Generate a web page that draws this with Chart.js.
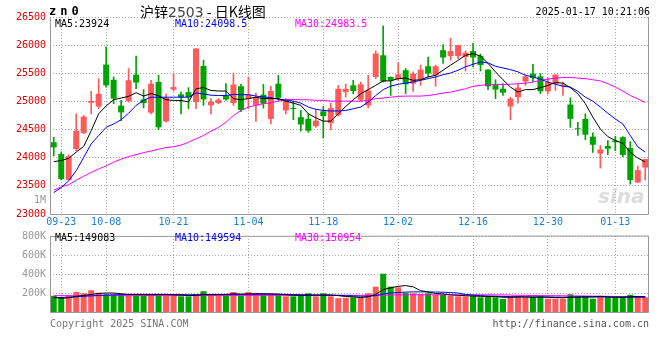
<!DOCTYPE html>
<html>
<head>
<meta charset="utf-8">
<script src="https://cdn.jsdelivr.net/npm/chart.js@4.4.1/dist/chart.umd.min.js"></script>
<style>
  body { margin: 0; background: #fff; }
  #wrap { position: relative; width: 660px; height: 360px; overflow: hidden; background: #fff; }
  canvas { position: absolute; left: 0; }
  .t { position: absolute; font: 10px "DejaVu Sans Mono", monospace; line-height: 12px; white-space: pre; }
</style>
</head>
<body>
<div id="wrap">
  <canvas id="kline" width="660" height="232" style="top:0"></canvas>
  <canvas id="vol" width="660" height="96" style="top:226px"></canvas>

  <div class="t" style="left:49px;top:4px;font-weight:bold;font-size:12px;line-height:14px;letter-spacing:4px">zn0</div>
  <div class="t" style="left:140px;top:2px;font:14px 'Noto Sans CJK SC';line-height:18px">沪锌<span style="color:#444;font-family:'DejaVu Sans'">2503</span> - 日K线图</div>
  <div class="t" style="right:10px;top:6px">2025-01-17 10:21:06</div>

  <div class="t" style="left:55px;top:18px;color:#000">MA5:23924</div>
  <div class="t" style="left:175px;top:18px;color:#0000ff">MA10:24098.5</div>
  <div class="t" style="left:295px;top:18px;color:#ff00ff">MA30:24983.5</div>
  <div class="t" style="left:0;width:46px;text-align:right;top:194px;color:#999">1M</div>
  <div class="t" style="left:598px;top:184px;font:italic bold 20px 'DejaVu Sans';line-height:24px;color:#dcdcdc">sina</div>

  <div class="t" style="left:55px;top:232px;color:#000">MA5:149083</div>
  <div class="t" style="left:175px;top:232px;color:#0000ff">MA10:149594</div>
  <div class="t" style="left:295px;top:232px;color:#ff00ff">MA30:150954</div>

  <div class="t" style="left:50px;top:318px;color:#777">Copyright 2025 SINA.COM</div>
  <div class="t" style="right:11px;top:318px;color:#555">http://finance.sina.com.cn</div>
</div>

<script>
// 日期（交易日）
const dates = ['09-20','09-23','09-24','09-25','09-26','09-27','09-30','10-08','10-09','10-10',
  '10-11','10-14','10-15','10-16','10-17','10-18','10-21','10-22','10-23','10-24',
  '10-25','10-28','10-29','10-30','10-31','11-01','11-04','11-05','11-06','11-07',
  '11-08','11-11','11-12','11-13','11-14','11-15','11-18','11-19','11-20','11-21',
  '11-22','11-25','11-26','11-27','11-28','11-29','12-02','12-03','12-04','12-05',
  '12-06','12-09','12-10','12-11','12-12','12-13','12-16','12-17','12-18','12-19',
  '12-20','12-23','12-24','12-25','12-26','12-27','12-30','12-31','01-02','01-03',
  '01-06','01-07','01-08','01-09','01-10','01-13','01-14','01-15','01-16','01-17'];
const tickDates = ['09-23','10-08','10-21','11-04','11-18','12-02','12-16','12-30','01-13'];
const priceTicks = [23000, 23500, 24000, 24500, 25000, 25500, 26000, 26500];
const volTicks = [200000, 400000, 600000, 800000];

const open = [24275,24065,23605,24155,24440,24975,24910,25655,25385,24925,
  25005,25475,25035,24800,25345,24645,25210,25125,25165,24990,
  25630,24930,24970,25105,24970,25270,25050,24930,25120,24690,
  25315,24840,24885,24720,24690,24560,24825,24615,24760,25165,
  25285,25030,24930,25435,25820,25435,25395,25555,25315,25385,
  25625,25465,25910,25805,25805,25790,25895,25805,25565,25290,
  25225,24910,25075,25355,25495,25445,25180,25315,25270,24945,
  24520,24690,24375,24075,24210,24305,24365,24175,23560,23825];
const high = [24365,24105,24050,24780,24750,25180,25405,25970,25435,25020,
  25585,25805,25210,25375,25465,25135,25505,25165,25245,25940,
  25730,25050,25050,25315,25505,25305,25435,25150,25305,25270,
  25465,25050,25005,24840,24780,24855,24910,24970,25285,25305,
  25375,25345,25465,25900,26340,25435,25690,25585,25525,25645,
  25790,25645,26010,26120,26000,25900,26030,25840,25565,25385,
  25315,25075,25305,25475,25660,25495,25425,25475,25345,25065,
  24630,24780,24440,24215,24305,24380,24375,24285,23855,23975];
const low = [24035,23605,23605,24125,24425,24780,24870,25255,24960,24660,
  24990,25225,24885,24780,24500,24630,25185,24780,24870,24870,
  24930,24780,24960,25020,24930,24820,24870,24645,24880,24600,
  25020,24780,24675,24470,24450,24540,24350,24495,24740,25075,
  25135,25005,24885,25405,25345,25105,25375,25135,25180,25285,
  25435,25270,25675,25730,25760,25540,25615,25540,25210,25050,
  25105,24675,24970,25285,25345,25135,25135,25195,25105,24540,
  24395,24320,24095,23815,24055,24125,24020,23530,23560,23605];
const close = [24185,23620,24025,24480,24730,25010,25135,25285,25050,24805,
  25375,25335,24970,25315,24540,25065,25255,25075,25075,25940,
  25035,24995,25030,25035,25300,24850,25125,25075,24960,25185,
  25065,25030,24865,24590,24480,24660,24740,24885,25225,25225,
  25185,25305,25195,25850,25355,25375,25480,25305,25495,25565,
  25495,25625,25780,25895,26000,25865,25780,25645,25270,25210,
  25155,25050,25245,25445,25415,25180,25345,25475,25300,24690,
  24505,24410,24230,24145,24160,24275,24050,23605,23780,23975];

const ma5 = [23930,23950,23990,24100,24200,24480,24780,24920,25030,25060,
  25090,25155,25095,25140,25100,25030,25018,25018,24990,25225,
  25245,25195,25185,25185,25050,25030,25050,25075,25050,25050,
  25050,25005,24970,24930,24780,24710,24650,24650,24780,24910,
  25030,25135,25210,25285,25365,25365,25405,25415,25375,25385,
  25435,25465,25555,25645,25730,25820,25850,25805,25675,25525,
  25385,25255,25165,25210,25210,25245,25285,25335,25325,25245,
  25135,24960,24720,24510,24375,24305,24255,24095,23995,23924];
const ma10 = [23380,23470,23590,23770,24005,24245,24395,24540,24600,24675,
  24790,24930,25020,25075,25075,25075,25075,25075,25075,25150,
  25135,25110,25105,25105,25125,25120,25120,25095,25080,25066,
  25040,25025,25005,24970,24900,24860,24840,24830,24830,24840,
  24870,24900,24990,25105,25210,25270,25305,25325,25345,25375,
  25405,25435,25475,25505,25555,25615,25660,25700,25685,25625,
  25595,25565,25525,25465,25435,25395,25345,25305,25270,25255,
  25180,25075,25005,24900,24790,24690,24600,24395,24195,24098.5];
const ma30 = [23425,23480,23520,23600,23670,23740,23800,23855,23920,23975,
  24020,24055,24090,24120,24150,24180,24195,24225,24275,24335,
  24395,24470,24540,24630,24750,24840,24900,24930,24960,24975,
  25005,25030,25035,25030,25030,25020,25020,25005,25005,25005,
  25005,25005,25020,25050,25060,25075,25090,25095,25095,25095,
  25105,25125,25150,25165,25195,25225,25270,25285,25300,25300,
  25300,25305,25315,25325,25345,25375,25395,25415,25425,25425,
  25415,25405,25385,25365,25315,25255,25185,25105,25045,24983.5];

// 成交量（千手）
const volume = [171,155,178,210,197,229,203,187,187,187,
  187,187,171,187,187,187,178,165,165,187,
  219,181,181,171,210,171,210,193,187,187,
  178,165,165,171,197,165,197,165,146,149,
  155,149,197,267,403,267,260,203,197,187,
  197,181,181,171,165,165,171,155,162,155,
  137,165,165,155,155,165,140,140,140,187,
  165,165,140,165,155,155,155,181,165,155];
const volMa5 = [155,145,150,165,175,185,195,200,200,192,
  185,185,182,182,184,184,180,178,174,175,
  182,183,185,185,192,188,190,192,192,190,
  188,182,176,175,178,178,178,180,172,163,
  160,152,160,185,235,255,270,278,265,225,
  210,195,190,180,176,172,168,165,163,162,
  155,155,158,158,155,158,155,152,150,155,
  158,160,160,165,158,156,155,160,162,162];
const volMa10 = [150,152,155,160,165,170,174,178,180,182,
  184,186,186,186,186,185,184,183,182,182,
  183,183,183,183,184,185,186,187,188,188,
  187,186,184,182,180,178,177,176,175,172,
  169,166,166,172,190,200,205,210,212,212,
  212,210,208,205,200,185,178,172,168,166,
  164,162,160,160,159,158,158,157,156,157,
  157,158,158,159,158,158,157,157,156,156];
const volMa30 = [172,172,171,171,172,172,173,173,173,172,
  172,173,173,173,174,174,174,173,173,173,
  174,174,174,174,175,175,175,175,175,175,
  175,175,175,175,176,176,176,176,176,176,
  176,176,176,177,178,179,180,180,181,181,
  181,181,181,181,181,181,181,181,181,181,
  180,178,176,175,174,173,172,172,171,170,
  169,168,167,166,165,164,162,160,158,156];
const VOL_UNIT = 1000;

const RED = '#ff5a5a';
const GREEN = '#00a400';
const GRID = '#aaaaaa';
const FONT = { family: 'DejaVu Sans Mono', size: 10 };

const upDown = ctx => close[ctx.dataIndex] >= open[ctx.dataIndex] ? RED : GREEN;

// 边框
const framePlugin = {
  id: 'frame',
  afterDatasetsDraw(chart, args, opts) {
    const { ctx, chartArea: a } = chart;
    ctx.save();
    ctx.strokeStyle = '#999';
    ctx.lineWidth = 1;
    ctx.beginPath();
    ctx.moveTo(a.left + 0.5, a.top);
    ctx.lineTo(a.left + 0.5, a.bottom + 0.5);
    ctx.lineTo(a.right - 0.5, a.bottom + 0.5);
    ctx.lineTo(a.right - 0.5, a.top);
    if (opts.top) ctx.lineTo(a.left, a.top + 0.5);
    ctx.stroke();
    ctx.restore();
  }
};

function xAxis(showLabels) {
  return {
    type: 'category',
    offset: true,
    grid: { offset: false, color: GRID, drawTicks: false },
    border: { display: false, dash: [1, 2] },
    ticks: { display: showLabels, autoSkip: false, maxRotation: 0, padding: 2, color: '#1a7fd4', font: FONT },
    afterBuildTicks: s => { s.ticks = s.ticks.filter(t => tickDates.includes(dates[t.value])); },
    afterFit: s => { s.height = showLabels ? 18 : 0; }
  };
}

function maLine(data, color, axis) {
  return { type: 'line', data, yAxisID: axis, borderColor: color, borderWidth: 1, pointRadius: 0, tension: 0, order: 0 };
}

// K线图
new Chart(document.getElementById('kline'), {
  type: 'bar',
  data: {
    labels: dates,
    datasets: [
      maLine(ma5, '#000000', 'y'),
      maLine(ma10, '#0000ff', 'y'),
      maLine(ma30, '#ff00ff', 'y'),
      {
        data: open.map((o, i) => [o, close[i]]),
        backgroundColor: upDown, grouped: false,
        barPercentage: 0.8, categoryPercentage: 1, minBarLength: 1, order: 1
      },
      {
        data: low.map((l, i) => [l, high[i]]),
        backgroundColor: upDown, grouped: false,
        barThickness: 1, order: 2
      }
    ]
  },
  options: {
    responsive: false,
    animation: false,
    events: [],
    layout: { padding: { left: 0, right: 11, top: 17, bottom: 0 } },
    plugins: { legend: { display: false }, tooltip: { enabled: false }, frame: { top: false } },
    scales: {
      x: xAxis(true),
      y: {
        min: priceTicks[0],
        max: priceTicks[priceTicks.length - 1],
        afterBuildTicks: s => { s.ticks = priceTicks.map(v => ({ value: v })); },
        grid: { color: GRID, drawTicks: false },
        border: { display: false, dash: [1, 2] },
        ticks: { color: '#e00000', padding: 4, font: FONT, callback: v => String(v) },
        afterFit: s => { s.width = 50; }
      }
    }
  },
  plugins: [framePlugin]
});

// 成交量
new Chart(document.getElementById('vol'), {
  type: 'bar',
  data: {
    labels: dates,
    datasets: [
      maLine(volMa5.map(v => v * VOL_UNIT), '#000000', 'y'),
      maLine(volMa10.map(v => v * VOL_UNIT), '#0000ff', 'y'),
      maLine(volMa30.map(v => v * VOL_UNIT), '#ff00ff', 'y'),
      {
        data: volume.map(v => v * VOL_UNIT),
        backgroundColor: upDown,
        barPercentage: 0.8, categoryPercentage: 1, order: 1
      }
    ]
  },
  options: {
    responsive: false,
    animation: false,
    events: [],
    layout: { padding: { left: 0, right: 11, top: 8, bottom: 4 } },
    plugins: { legend: { display: false }, tooltip: { enabled: false }, frame: { top: true } },
    scales: {
      x: xAxis(false),
      y: {
        min: 0,
        max: volTicks[volTicks.length - 1],
        afterBuildTicks: s => { s.ticks = volTicks.map(v => ({ value: v })); },
        grid: { color: GRID, drawTicks: false },
        border: { display: false, dash: [1, 2] },
        ticks: { color: '#999', padding: 4, font: FONT, callback: v => (v / 1000) + 'K' },
        afterFit: s => { s.width = 50; }
      }
    }
  },
  plugins: [framePlugin]
});
</script>
</body>
</html>
